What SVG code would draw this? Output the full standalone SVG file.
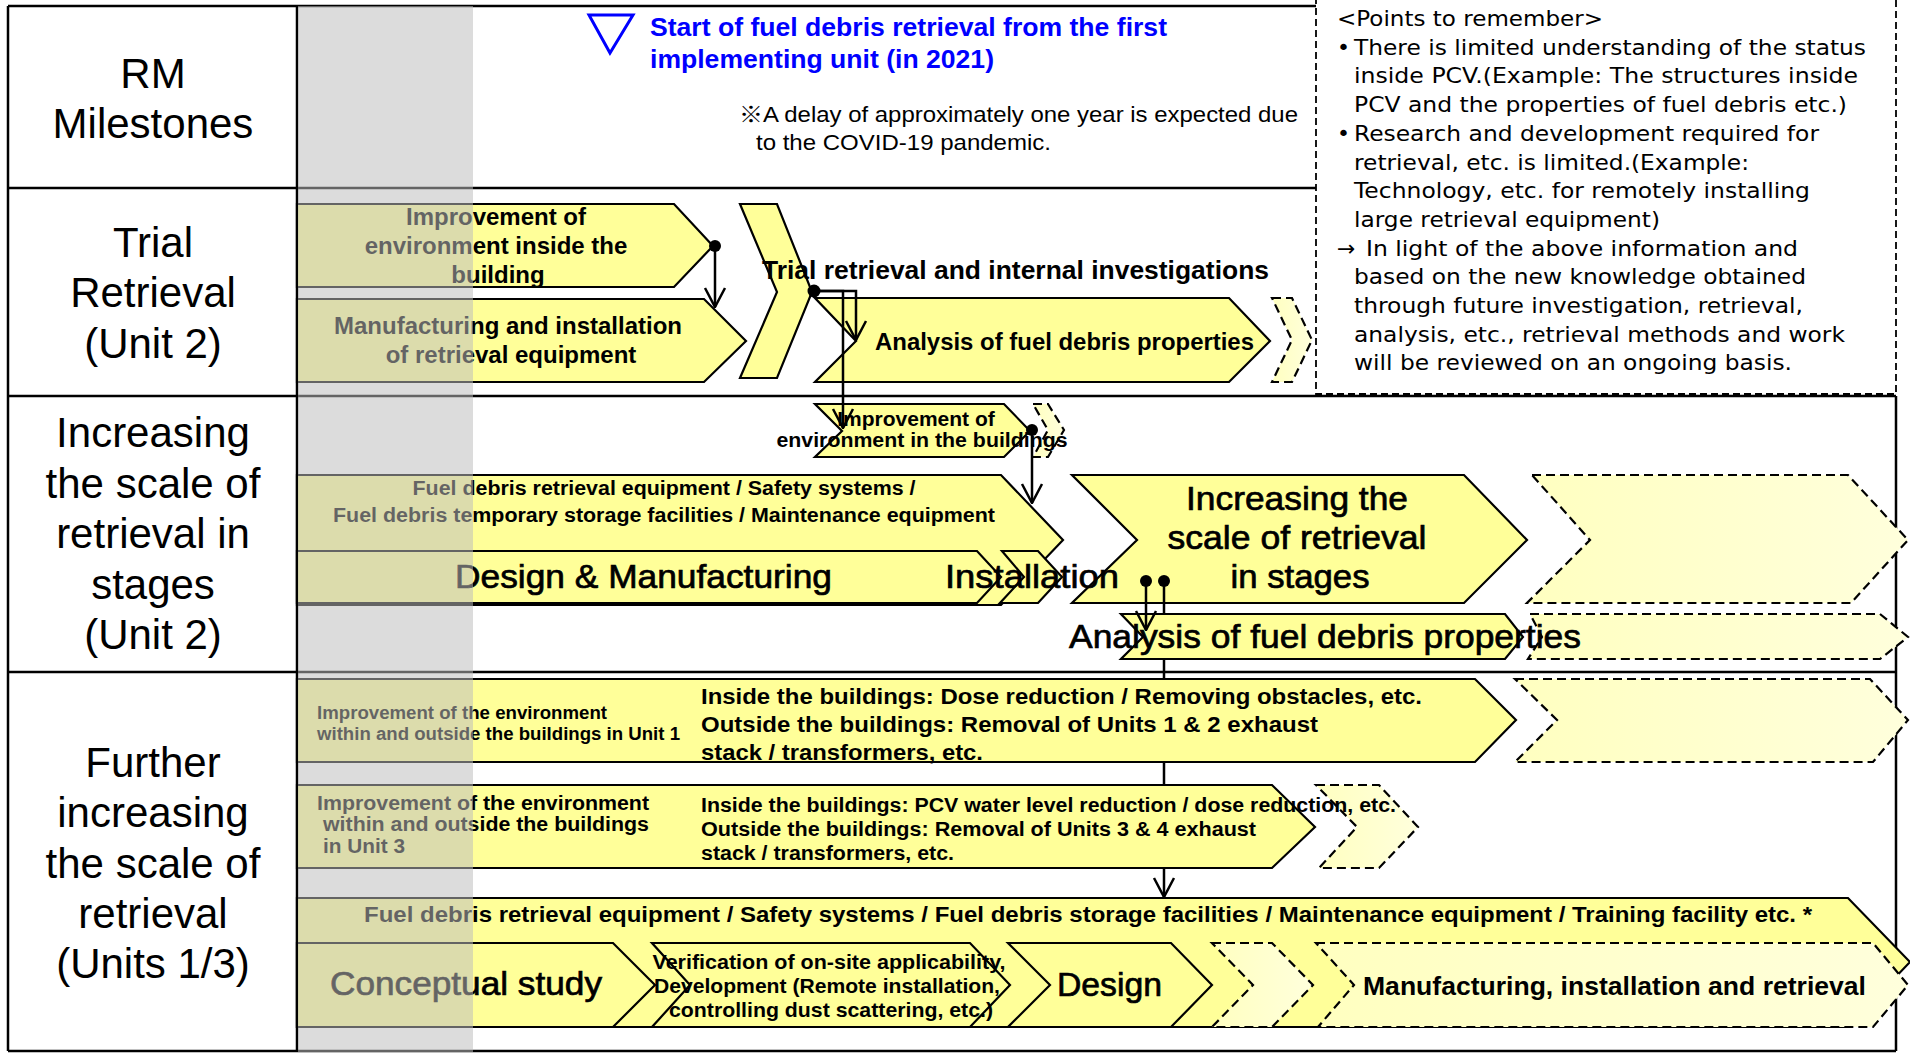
<svg xmlns="http://www.w3.org/2000/svg" width="1910" height="1053" viewBox="0 0 1910 1053">
<defs>
<style>
.lbl{font-family:"Liberation Sans",Arial,sans-serif;font-size:42px;text-anchor:middle;fill:#000}
.b{font-family:"Liberation Sans",Arial,"Noto Sans CJK JP",sans-serif;font-weight:bold;fill:#000}
.r{font-family:"Liberation Sans",Arial,"Noto Sans CJK JP",sans-serif;fill:#000}
.m{font-family:"Liberation Sans",Arial,sans-serif;font-size:34px;fill:#000;stroke:#000;stroke-width:0.7}
.mid{text-anchor:middle}
.box{fill:#ffff99;stroke:#000;stroke-width:2.2;stroke-linejoin:miter}
.dash{fill:url(#lg);stroke:#000;stroke-width:2.2;stroke-dasharray:9 5}
.frame{stroke:#000;stroke-width:2.5;fill:none}
.conn{stroke:#000;stroke-width:2.5;fill:none}
.note{font-family:"DejaVu Sans",Verdana,sans-serif;font-size:22px;fill:#000}
</style>
<linearGradient id="lg" x1="0" y1="0" x2="1" y2="0">
<stop offset="0" stop-color="#ffffc0"/>
<stop offset="1" stop-color="#ffffdc"/>
</linearGradient>
<marker id="ah" viewBox="-2 -12 22 24" refX="19" refY="0" markerWidth="22" markerHeight="24" markerUnits="userSpaceOnUse" orient="auto">
<path d="M0,-10 L19,0 L0,10" fill="none" stroke="#000" stroke-width="2.5"/>
</marker>
</defs>
<rect x="0" y="0" width="1910" height="1053" fill="#fff"/>

<g id="frame" class="frame">
<line x1="8" y1="6" x2="1316" y2="6"/>
<line x1="8" y1="188" x2="1316" y2="188"/>
<line x1="8" y1="396" x2="1896" y2="396"/>
<line x1="8" y1="672" x2="1896" y2="672"/>
<line x1="8" y1="1051" x2="1896" y2="1051"/>
<line x1="8" y1="6" x2="8" y2="1051"/>
<line x1="297" y1="6" x2="297" y2="1051"/>
<line x1="1896" y1="396" x2="1896" y2="1051"/>
</g>

<g id="label-rm">
<text class="lbl" x="153" y="88">RM</text>
<text class="lbl" x="153" y="138">Milestones</text>
</g>
<g id="label-trial">
<text class="lbl" x="153" y="257">Trial</text>
<text class="lbl" x="153" y="307">Retrieval</text>
<text class="lbl" x="153" y="358">(Unit 2)</text>
</g>
<g id="label-stages">
<text class="lbl" x="153" y="447">Increasing</text>
<text class="lbl" x="153" y="498">the scale of</text>
<text class="lbl" x="153" y="548">retrieval in</text>
<text class="lbl" x="153" y="599">stages</text>
<text class="lbl" x="153" y="649">(Unit 2)</text>
</g>
<g id="label-further">
<text class="lbl" x="153" y="777">Further</text>
<text class="lbl" x="153" y="827">increasing</text>
<text class="lbl" x="153" y="878">the scale of</text>
<text class="lbl" x="153" y="928">retrieval</text>
<text class="lbl" x="153" y="978">(Units 1/3)</text>
</g>

<g id="milestone">
<polygon points="589,15 633,15 610,53" fill="none" stroke="#0000ff" stroke-width="3"/>
<text class="b" x="650" y="36" font-size="25" style="fill:#0000ff" textLength="517" lengthAdjust="spacingAndGlyphs">Start of fuel debris retrieval from the first</text>
<text class="b" x="650" y="68" font-size="25" style="fill:#0000ff" textLength="344" lengthAdjust="spacingAndGlyphs">implementing unit (in 2021)</text>
</g>
<g id="delay-note">
<text class="r" x="739" y="122" font-size="22" textLength="559" lengthAdjust="spacingAndGlyphs">※A delay of approximately one year is expected due</text>
<text class="r" x="756" y="150" font-size="22" textLength="295" lengthAdjust="spacingAndGlyphs">to the COVID-19 pandemic.</text>
</g>

<g id="points-box">
<rect x="1316" y="-3" width="580" height="397" fill="#fff" stroke="#000" stroke-width="1.8" stroke-dasharray="7 4"/>
<text class="note" x="1337" y="26" textLength="266" lengthAdjust="spacingAndGlyphs">&lt;Points to remember&gt;</text>
<text class="note" x="1337" y="55">•</text>
<text class="note" x="1354" y="55" textLength="512" lengthAdjust="spacingAndGlyphs">There is limited understanding of the status</text>
<text class="note" x="1354" y="83" textLength="504" lengthAdjust="spacingAndGlyphs">inside PCV.(Example: The structures inside</text>
<text class="note" x="1354" y="112" textLength="493" lengthAdjust="spacingAndGlyphs">PCV and the properties of fuel debris etc.)</text>
<text class="note" x="1337" y="141">•</text>
<text class="note" x="1354" y="141" textLength="465" lengthAdjust="spacingAndGlyphs">Research and development required for</text>
<text class="note" x="1354" y="170" textLength="395" lengthAdjust="spacingAndGlyphs">retrieval, etc. is limited.(Example:</text>
<text class="note" x="1354" y="198" textLength="456" lengthAdjust="spacingAndGlyphs">Technology, etc. for remotely installing</text>
<text class="note" x="1354" y="227" textLength="306" lengthAdjust="spacingAndGlyphs">large retrieval equipment)</text>
<text class="note" x="1337" y="256">→</text>
<text class="note" x="1366" y="256" textLength="432" lengthAdjust="spacingAndGlyphs">In light of the above information and</text>
<text class="note" x="1354" y="284" textLength="452" lengthAdjust="spacingAndGlyphs">based on the new knowledge obtained</text>
<text class="note" x="1354" y="313" textLength="449" lengthAdjust="spacingAndGlyphs">through future investigation, retrieval,</text>
<text class="note" x="1354" y="342" textLength="491" lengthAdjust="spacingAndGlyphs">analysis, etc., retrieval methods and work</text>
<text class="note" x="1354" y="370" textLength="438" lengthAdjust="spacingAndGlyphs">will be reviewed on an ongoing basis.</text>
</g>

<!-- Row 2 -->
<g id="a-improve">
<polygon class="box" points="297,204 674,204 713,246 674,287 297,287"/>
<text class="b mid" x="496" y="225" font-size="24">Improvement of</text>
<text class="b mid" x="496" y="254" font-size="24">environment inside the</text>
<text class="b mid" x="498" y="283" font-size="24">building</text>
</g>
<g id="b-manufacturing">
<polygon class="box" points="297,299 704,299 746,341 704,382 297,382"/>
<text class="b mid" x="508" y="334" font-size="24">Manufacturing and installation</text>
<text class="b mid" x="511" y="363" font-size="24">of retrieval equipment</text>
</g>
<g id="c-trial">
<polygon class="box" points="740,204 777,204 812,292 777,378 740,378 777,292"/>
<text class="b" x="762" y="279" font-size="26" textLength="507" lengthAdjust="spacingAndGlyphs">Trial retrieval and internal investigations</text>
</g>
<g id="d-analysis">
<polygon class="box" points="815,298 1229,298 1270,341 1229,382 815,382 856,341"/>
<text class="b" x="875" y="350" font-size="24" textLength="379" lengthAdjust="spacingAndGlyphs">Analysis of fuel debris properties</text>
</g>
<g id="e-next">
<polygon class="dash" points="1272,298 1292,298 1312,340 1292,382 1272,382 1292,340"/>
</g>

<!-- Row 3 -->
<g id="g-next">
<polygon class="dash" points="1033,404 1048,404 1064,430 1048,457 1033,457 1048,430"/>
</g>
<g id="f-improve">
<polygon class="box" points="815,404 1004,404 1030,431 1004,457 815,457 842,431"/>
<text class="b mid" x="916" y="426" font-size="21">Improvement of</text>
<text class="b mid" x="922" y="447" font-size="21" textLength="291" lengthAdjust="spacingAndGlyphs">environment in the buildings</text>
</g>
<g id="h-equipment">
<polygon class="box" points="297,475 1001,475 1063,540 1001,605 297,605"/>
<text class="b mid" x="664" y="495" font-size="20" textLength="503" lengthAdjust="spacingAndGlyphs">Fuel debris retrieval equipment / Safety systems /</text>
<text class="b mid" x="664" y="522" font-size="20" textLength="662" lengthAdjust="spacingAndGlyphs">Fuel debris temporary storage facilities / Maintenance equipment</text>
</g>
<g id="i-design">
<polygon class="box" points="297,551 977,551 1001,577 977,603 297,603"/>
<text class="m" x="455" y="588" textLength="377" lengthAdjust="spacingAndGlyphs">Design &amp; Manufacturing</text>
</g>
<g id="l-next">
<polygon class="dash" points="1532,475 1848,475 1908,540 1851,603 1527,603 1590,540"/>
</g>
<g id="k-increasing">
<polygon class="box" points="1072,475 1464,475 1527,540 1464,603 1072,603 1137,540"/>
<text class="m mid" x="1297" y="510" textLength="222" lengthAdjust="spacingAndGlyphs">Increasing the</text>
<text class="m mid" x="1297" y="549" textLength="259" lengthAdjust="spacingAndGlyphs">scale of retrieval</text>
<text class="m mid" x="1300" y="588" textLength="139" lengthAdjust="spacingAndGlyphs">in stages</text>
</g>
<g id="j-installation">
<polygon class="box" points="1002,551 1038,551 1062,577 1038,603 1000,603 1024,577"/>
<text class="m" x="945" y="588" textLength="174" lengthAdjust="spacingAndGlyphs">Installation</text>
</g>
<g id="n-next">
<polygon class="dash" points="1530,614 1880,614 1908,637 1880,659 1528,659 1542,637"/>
</g>
<g id="m-analysis">
<polygon class="box" points="1121,614 1505,614 1523,637 1505,659 1121,659 1143,637"/>
<text class="m" x="1069" y="648" textLength="512" lengthAdjust="spacingAndGlyphs">Analysis of fuel debris properties</text>
</g>

<!-- Row 4 -->
<g id="s-next">
<polygon class="dash" points="1515,679 1870,679 1908,720 1873,762 1515,762 1557,720"/>
</g>
<g id="p-unit1">
<polygon class="box" points="297,679 1475,679 1516,720 1475,762 297,762"/>
<text class="b" x="317" y="719" font-size="18" textLength="290" lengthAdjust="spacingAndGlyphs">Improvement of the environment</text>
<text class="b" x="317" y="740" font-size="18" textLength="363" lengthAdjust="spacingAndGlyphs">within and outside the buildings in Unit 1</text>
<text class="b" x="701" y="704" font-size="22" textLength="721" lengthAdjust="spacingAndGlyphs">Inside the buildings: Dose reduction / Removing obstacles, etc.</text>
<text class="b" x="701" y="732" font-size="22" textLength="617" lengthAdjust="spacingAndGlyphs">Outside the buildings: Removal of Units 1 &amp; 2 exhaust</text>
<text class="b" x="701" y="760" font-size="22" textLength="282" lengthAdjust="spacingAndGlyphs">stack / transformers, etc.</text>
</g>
<g id="t-next">
<polygon class="dash" points="1316,785 1379,785 1418,827 1379,868 1319,868 1357,827"/>
</g>
<g id="r-unit3">
<polygon class="box" points="297,785 1272,785 1315,827 1272,868 297,868"/>
<text class="b" x="317" y="810" font-size="20" textLength="332" lengthAdjust="spacingAndGlyphs">Improvement of the environment</text>
<text class="b" x="323" y="831" font-size="20" textLength="326" lengthAdjust="spacingAndGlyphs">within and outside the buildings</text>
<text class="b" x="323" y="853" font-size="20" textLength="82" lengthAdjust="spacingAndGlyphs">in Unit 3</text>
<text class="b" x="701" y="812" font-size="20" textLength="695" lengthAdjust="spacingAndGlyphs">Inside the buildings: PCV water level reduction / dose reduction, etc.</text>
<text class="b" x="701" y="836" font-size="20" textLength="555" lengthAdjust="spacingAndGlyphs">Outside the buildings: Removal of Units 3 &amp; 4  exhaust</text>
<text class="b" x="701" y="860" font-size="20" textLength="253" lengthAdjust="spacingAndGlyphs">stack / transformers, etc.</text>
</g>
<g id="q-equipment">
<polygon class="box" points="297,898 1848,898 1910,962 1848,1027 297,1027"/>
<text class="b" x="364" y="922" font-size="22" textLength="1448" lengthAdjust="spacingAndGlyphs">Fuel debris retrieval equipment / Safety systems / Fuel debris storage facilities / Maintenance equipment / Training facility etc. *</text>
</g>
<g id="u-conceptual">
<polygon class="box" points="297,943 613,943 655,985 613,1027 297,1027"/>
<text class="m" x="330" y="995" textLength="272" lengthAdjust="spacingAndGlyphs">Conceptual study</text>
</g>
<g id="v-verification">
<polygon class="box" points="652,943 970,943 1010,985 970,1027 652,1027 690,985"/>
<text class="b mid" x="829" y="969" font-size="21" textLength="353" lengthAdjust="spacingAndGlyphs">Verification of on-site applicability,</text>
<text class="b mid" x="827" y="993" font-size="21" textLength="346" lengthAdjust="spacingAndGlyphs">Development (Remote installation,</text>
<text class="b mid" x="831" y="1017" font-size="21" textLength="324" lengthAdjust="spacingAndGlyphs">controlling dust scattering, etc.)</text>
</g>
<g id="w-design">
<polygon class="box" points="1008,943 1171,943 1212,985 1171,1027 1008,1027 1050,985"/>
<text class="m" x="1057" y="996" font-size="35" textLength="105" lengthAdjust="spacingAndGlyphs">Design</text>
</g>
<g id="x-next">
<polygon class="dash" points="1212,943 1272,943 1313,985 1272,1027 1212,1027 1253,985"/>
</g>
<g id="y-manufacturing">
<polygon class="dash" points="1316,943 1873,943 1908,985 1873,1027 1318,1027 1354,985"/>
<text class="b" x="1363" y="995" font-size="26" textLength="503" lengthAdjust="spacingAndGlyphs">Manufacturing, installation and retrieval</text>
</g>

<g id="connectors">
<circle cx="715" cy="246" r="6" fill="#000"/>
<path class="conn" d="M715,246 V307" marker-end="url(#ah)"/>
<circle cx="814" cy="291" r="6.5" fill="#000"/>
<path class="conn" d="M814,291 H856 V340" marker-end="url(#ah)"/>
<path class="conn" d="M814,291 H843 V428" marker-end="url(#ah)"/>
<circle cx="1032" cy="430" r="6" fill="#000"/>
<path class="conn" d="M1032,430 V503" marker-end="url(#ah)"/>
<circle cx="1146" cy="581" r="6" fill="#000"/>
<path class="conn" d="M1146,581 V630" marker-end="url(#ah)"/>
<circle cx="1164" cy="581" r="6" fill="#000"/>
<path class="conn" d="M1164,581 V614 M1164,659 V679 M1164,762 V785"/>
<path class="conn" d="M1164,868 V897" marker-end="url(#ah)"/>
</g>

<rect id="shade" x="298" y="6" width="175" height="1046" fill="#bdbdbd" opacity="0.53"/>
</svg>
